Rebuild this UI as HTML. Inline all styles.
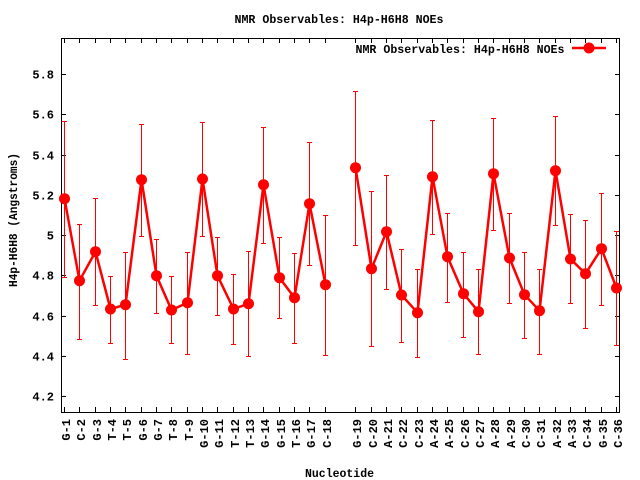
<!DOCTYPE html>
<html>
<head>
<meta charset="utf-8">
<style>
html,body{margin:0;padding:0;background:#fff;}
svg{display:block;}
text{font-family:"Liberation Mono","DejaVu Sans Mono",monospace;font-weight:bold;font-size:12px;fill:#000;}
</style>
</head>
<body>
<svg width="640" height="480" viewBox="0 0 640 480" xmlns="http://www.w3.org/2000/svg">
<rect width="640" height="480" fill="#fff"/>

<!-- axes box -->
<g stroke="#000" stroke-width="1" fill="none" shape-rendering="crispEdges">
<rect x="61.5" y="38.5" width="558" height="374"/>
<!-- y ticks left & right -->
<path d="M61,74.5H66M61,114.5H66M61,155.5H66M61,195.5H66M61,235.5H66M61,275.5H66M61,316.5H66M61,356.5H66M61,396.5H66
M620,74.5H615M620,114.5H615M620,155.5H615M620,195.5H615M620,235.5H615M620,275.5H615M620,316.5H615M620,356.5H615M620,396.5H615"/>
<!-- x ticks bottom -->
<path d="M64.5,412V407M79.5,412V407M95.5,412V407M110.5,412V407M125.5,412V407M141.5,412V407M156.5,412V407M171.5,412V407M187.5,412V407M202.5,412V407M217.5,412V407M233.5,412V407M248.5,412V407M263.5,412V407M279.5,412V407M294.5,412V407M309.5,412V407M325.5,412V407M355.5,412V407M371.5,412V407M386.5,412V407M401.5,412V407M417.5,412V407M432.5,412V407M447.5,412V407M463.5,412V407M478.5,412V407M493.5,412V407M509.5,412V407M524.5,412V407M539.5,412V407M555.5,412V407M570.5,412V407M585.5,412V407M601.5,412V407M616.5,412V407"/>
<!-- x ticks top -->
<path d="M64.5,39V43M79.5,39V43M95.5,39V43M110.5,39V43M125.5,39V43M141.5,39V43M156.5,39V43M171.5,39V43M187.5,39V43M202.5,39V43M217.5,39V43M233.5,39V43M248.5,39V43M263.5,39V43M279.5,39V43M294.5,39V43M309.5,39V43M325.5,39V43M355.5,39V43M371.5,39V43M386.5,39V43M401.5,39V43M417.5,39V43M432.5,39V43M447.5,39V43M463.5,39V43M478.5,39V43M493.5,39V43M509.5,39V43M524.5,39V43M539.5,39V43M555.5,39V43M570.5,39V43M585.5,39V43M601.5,39V43M616.5,39V43"/>
</g>

<!-- y tick labels -->
<g text-anchor="end">
<text x="54" y="78.5">5.8</text>
<text x="54" y="118.5">5.6</text>
<text x="54" y="159.5">5.4</text>
<text x="54" y="199.5">5.2</text>
<text x="54" y="239.5">5</text>
<text x="54" y="279.5">4.8</text>
<text x="54" y="320.5">4.6</text>
<text x="54" y="360.5">4.4</text>
<text x="54" y="400.5">4.2</text>
</g>

<!-- x tick labels -->
<g text-anchor="end">
<text transform="translate(70,419) rotate(-90)">G-1</text>
<text transform="translate(85,419) rotate(-90)">C-2</text>
<text transform="translate(101,419) rotate(-90)">G-3</text>
<text transform="translate(116,419) rotate(-90)">T-4</text>
<text transform="translate(131,419) rotate(-90)">T-5</text>
<text transform="translate(147,419) rotate(-90)">G-6</text>
<text transform="translate(162,419) rotate(-90)">G-7</text>
<text transform="translate(177,419) rotate(-90)">T-8</text>
<text transform="translate(193,419) rotate(-90)">T-9</text>
<text transform="translate(208,419) rotate(-90)">G-10</text>
<text transform="translate(223,419) rotate(-90)">G-11</text>
<text transform="translate(239,419) rotate(-90)">T-12</text>
<text transform="translate(254,419) rotate(-90)">T-13</text>
<text transform="translate(269,419) rotate(-90)">G-14</text>
<text transform="translate(285,419) rotate(-90)">G-15</text>
<text transform="translate(300,419) rotate(-90)">T-16</text>
<text transform="translate(315,419) rotate(-90)">G-17</text>
<text transform="translate(331,419) rotate(-90)">C-18</text>
<text transform="translate(361,419) rotate(-90)">G-19</text>
<text transform="translate(377,419) rotate(-90)">C-20</text>
<text transform="translate(392,419) rotate(-90)">A-21</text>
<text transform="translate(407,419) rotate(-90)">C-22</text>
<text transform="translate(423,419) rotate(-90)">C-23</text>
<text transform="translate(438,419) rotate(-90)">A-24</text>
<text transform="translate(453,419) rotate(-90)">A-25</text>
<text transform="translate(469,419) rotate(-90)">C-26</text>
<text transform="translate(484,419) rotate(-90)">C-27</text>
<text transform="translate(499,419) rotate(-90)">A-28</text>
<text transform="translate(515,419) rotate(-90)">A-29</text>
<text transform="translate(530,419) rotate(-90)">C-30</text>
<text transform="translate(545,419) rotate(-90)">C-31</text>
<text transform="translate(561,419) rotate(-90)">A-32</text>
<text transform="translate(576,419) rotate(-90)">A-33</text>
<text transform="translate(591,419) rotate(-90)">C-34</text>
<text transform="translate(607,419) rotate(-90)">G-35</text>
<text transform="translate(622,419) rotate(-90)">C-36</text>
</g>

<!-- titles -->
<text x="234.5" y="23" textLength="209" lengthAdjust="spacingAndGlyphs">NMR Observables: H4p-H6H8 NOEs</text>
<text x="305" y="477" textLength="69" lengthAdjust="spacingAndGlyphs">Nucleotide</text>
<text transform="translate(17,220) rotate(-90)" text-anchor="middle" textLength="134" lengthAdjust="spacingAndGlyphs">H4p-H6H8 (Angstroms)</text>

<!-- legend -->
<text x="355.5" y="53" textLength="209" lengthAdjust="spacingAndGlyphs">NMR Observables: H4p-H6H8 NOEs</text>
<line x1="572" y1="48" x2="606" y2="48" stroke="#f00" stroke-width="2.5"/>
<circle cx="589" cy="48" r="5.5" fill="#f00"/>

<!-- error bars -->
<g stroke="#f00" stroke-width="1" fill="none" shape-rendering="crispEdges">
<path d="
M64.5,121.5V277.5M62,121.5H67M62,277.5H67
M79.5,224.5V339.5M77,224.5H82M77,339.5H82
M95.5,198.5V305.5M93,198.5H98M93,305.5H98
M110.5,276.5V343.5M108,276.5H113M108,343.5H113
M125.5,252.5V359.5M123,252.5H128M123,359.5H128
M141.5,124.5V236.5M139,124.5H144M139,236.5H144
M156.5,239.5V313.5M154,239.5H159M154,313.5H159
M171.5,276.5V343.5M169,276.5H174M169,343.5H174
M187.5,252.5V354.5M185,252.5H190M185,354.5H190
M202.5,122.5V236.5M200,122.5H205M200,236.5H205
M217.5,237.5V315.5M215,237.5H220M215,315.5H220
M233.5,274.5V344.5M231,274.5H236M231,344.5H236
M248.5,251.5V356.5M246,251.5H251M246,356.5H251
M263.5,127.5V243.5M261,127.5H266M261,243.5H266
M279.5,237.5V318.5M277,237.5H282M277,318.5H282
M294.5,253.5V343.5M292,253.5H297M292,343.5H297
M309.5,142.5V265.5M307,142.5H312M307,265.5H312
M325.5,215.5V355.5M323,215.5H328M323,355.5H328
M355.5,91.5V245.5M353,91.5H358M353,245.5H358
M371.5,191.5V346.5M369,191.5H374M369,346.5H374
M386.5,175.5V289.5M384,175.5H389M384,289.5H389
M401.5,249.5V342.5M399,249.5H404M399,342.5H404
M417.5,269.5V357.5M415,269.5H420M415,357.5H420
M432.5,120.5V234.5M430,120.5H435M430,234.5H435
M447.5,213.5V302.5M445,213.5H450M445,302.5H450
M463.5,252.5V337.5M461,252.5H466M461,337.5H466
M478.5,269.5V354.5M476,269.5H481M476,354.5H481
M493.5,118.5V230.5M491,118.5H496M491,230.5H496
M509.5,213.5V303.5M507,213.5H512M507,303.5H512
M524.5,252.5V338.5M522,252.5H527M522,338.5H527
M539.5,269.5V354.5M537,269.5H542M537,354.5H542
M555.5,116.5V225.5M553,116.5H558M553,225.5H558
M570.5,214.5V303.5M568,214.5H573M568,303.5H573
M585.5,220.5V328.5M583,220.5H588M583,328.5H588
M601.5,193.5V305.5M599,193.5H604M599,305.5H604
M616.5,231.5V345.5M614,231.5H619M614,345.5H619
"/>
</g>

<!-- lines -->
<g stroke="#f00" stroke-width="2.5" fill="none" stroke-linejoin="round">
<polyline points="64.5,198.7 79.5,280.7 95.5,251.7 110.5,309 125.5,304.7 141.5,179.7 156.5,275.7 171.5,310 187.5,302.7 202.5,179 217.5,275.7 233.5,309 248.5,303.7 263.5,184.7 279.5,277.7 294.5,297.7 309.5,203.7 325.5,284.7"/>
<polyline points="355.5,167.7 371.5,268.7 386.5,231.7 401.5,295 417.5,312.7 432.5,176.7 447.5,256.7 463.5,293.7 478.5,311.7 493.5,173.7 509.5,258 524.5,294.7 539.5,310.7 555.5,170.7 570.5,259 585.5,273.7 601.5,248.7 616.5,288"/>
</g>

<!-- markers -->
<g fill="#f00">
<circle cx="64.5" cy="198.7" r="5.5"/>
<circle cx="79.5" cy="280.7" r="5.5"/>
<circle cx="95.5" cy="251.7" r="5.5"/>
<circle cx="110.5" cy="309" r="5.5"/>
<circle cx="125.5" cy="304.7" r="5.5"/>
<circle cx="141.5" cy="179.7" r="5.5"/>
<circle cx="156.5" cy="275.7" r="5.5"/>
<circle cx="171.5" cy="310" r="5.5"/>
<circle cx="187.5" cy="302.7" r="5.5"/>
<circle cx="202.5" cy="179" r="5.5"/>
<circle cx="217.5" cy="275.7" r="5.5"/>
<circle cx="233.5" cy="309" r="5.5"/>
<circle cx="248.5" cy="303.7" r="5.5"/>
<circle cx="263.5" cy="184.7" r="5.5"/>
<circle cx="279.5" cy="277.7" r="5.5"/>
<circle cx="294.5" cy="297.7" r="5.5"/>
<circle cx="309.5" cy="203.7" r="5.5"/>
<circle cx="325.5" cy="284.7" r="5.5"/>
<circle cx="355.5" cy="167.7" r="5.5"/>
<circle cx="371.5" cy="268.7" r="5.5"/>
<circle cx="386.5" cy="231.7" r="5.5"/>
<circle cx="401.5" cy="295" r="5.5"/>
<circle cx="417.5" cy="312.7" r="5.5"/>
<circle cx="432.5" cy="176.7" r="5.5"/>
<circle cx="447.5" cy="256.7" r="5.5"/>
<circle cx="463.5" cy="293.7" r="5.5"/>
<circle cx="478.5" cy="311.7" r="5.5"/>
<circle cx="493.5" cy="173.7" r="5.5"/>
<circle cx="509.5" cy="258" r="5.5"/>
<circle cx="524.5" cy="294.7" r="5.5"/>
<circle cx="539.5" cy="310.7" r="5.5"/>
<circle cx="555.5" cy="170.7" r="5.5"/>
<circle cx="570.5" cy="259" r="5.5"/>
<circle cx="585.5" cy="273.7" r="5.5"/>
<circle cx="601.5" cy="248.7" r="5.5"/>
<circle cx="616.5" cy="288" r="5.5"/>
</g>
</svg>
</body>
</html>
